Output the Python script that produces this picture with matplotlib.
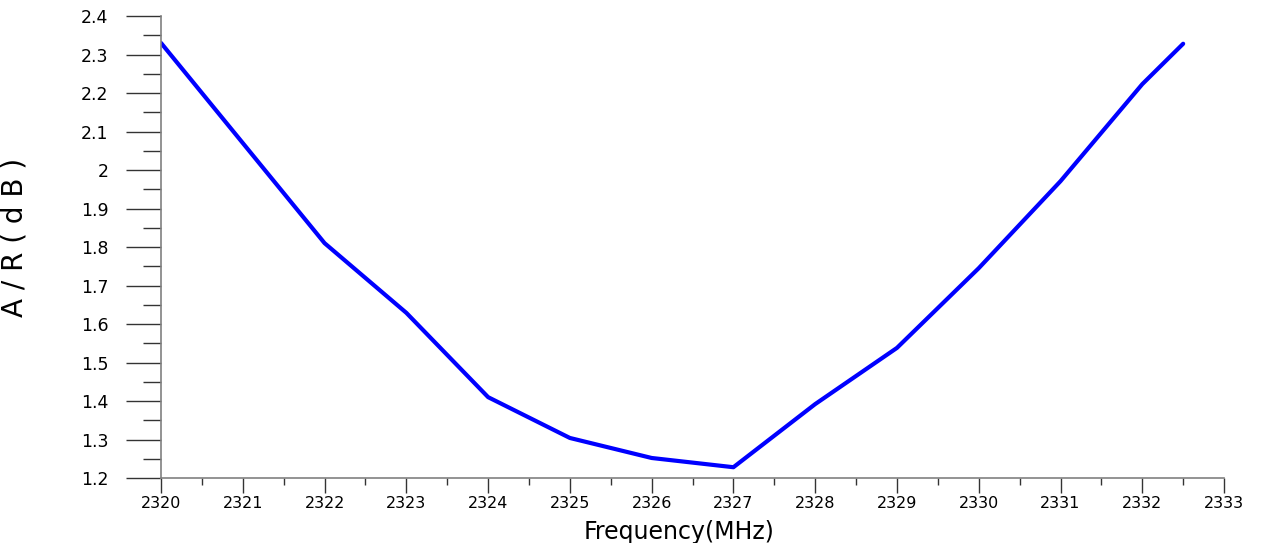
import matplotlib
matplotlib.use('Agg')
import matplotlib.pyplot as plt
from matplotlib.ticker import MultipleLocator, FuncFormatter

# frequency sweep (MHz) and A/R (dB)
freq = [2320, 2321, 2322, 2323, 2324, 2325, 2326, 2327, 2328, 2329, 2330, 2331, 2332, 2332.5]
ar_db = [2.33, 2.07, 1.81, 1.629, 1.41, 1.304, 1.252, 1.228, 1.392, 1.538, 1.745, 1.971, 2.223, 2.328]

x_ticks = list(range(2320, 2334))
y_ticks = [1.2, 1.3, 1.4, 1.5, 1.6, 1.7, 1.8, 1.9, 2.0, 2.1, 2.2, 2.3, 2.4]

plt.rcParams['font.family'] = ['DejaVu Sans']

fig = plt.figure(figsize=(12.72, 5.43), dpi=100)
ax = fig.add_axes([0.1266, 0.1197, 0.9623 - 0.1266, 0.9705 - 0.1197])

ax.plot(freq, ar_db, color='#0000ff', linewidth=3, solid_capstyle='round')

ax.set_xlim(2320, 2333)
ax.set_ylim(1.2, 2.4)
ax.set_xticks(x_ticks)
ax.set_yticks(y_ticks)
ax.xaxis.set_minor_locator(MultipleLocator(0.5))
ax.yaxis.set_minor_locator(MultipleLocator(0.05))
ax.yaxis.set_major_formatter(FuncFormatter(lambda v, p: f"{v:g}"))

for s in ['top', 'right']:
    ax.spines[s].set_visible(False)
for s in ['left', 'bottom']:
    ax.spines[s].set_color('#808080')
    ax.spines[s].set_linewidth(1.2)

ax.tick_params(axis='y', which='major', length=25, width=1, color='#333333', labelsize=12.5, pad=13)
ax.tick_params(axis='y', which='minor', length=13, width=1, color='#333333')
ax.tick_params(axis='x', which='major', length=11, width=1, color='#333333', labelsize=11.5, pad=2)
ax.tick_params(axis='x', which='minor', length=5, width=1, color='#333333')

ax.set_xlabel('Frequency(MHz)', fontsize=17, va='bottom')
ax.xaxis.set_label_coords(0.487, -0.1435)
ax.set_ylabel('A / R ( d B )', fontsize=20, va='center')
ax.yaxis.set_label_coords(-0.138, 0.52)

plt.savefig('out.png', dpi=100)
plt.close()
